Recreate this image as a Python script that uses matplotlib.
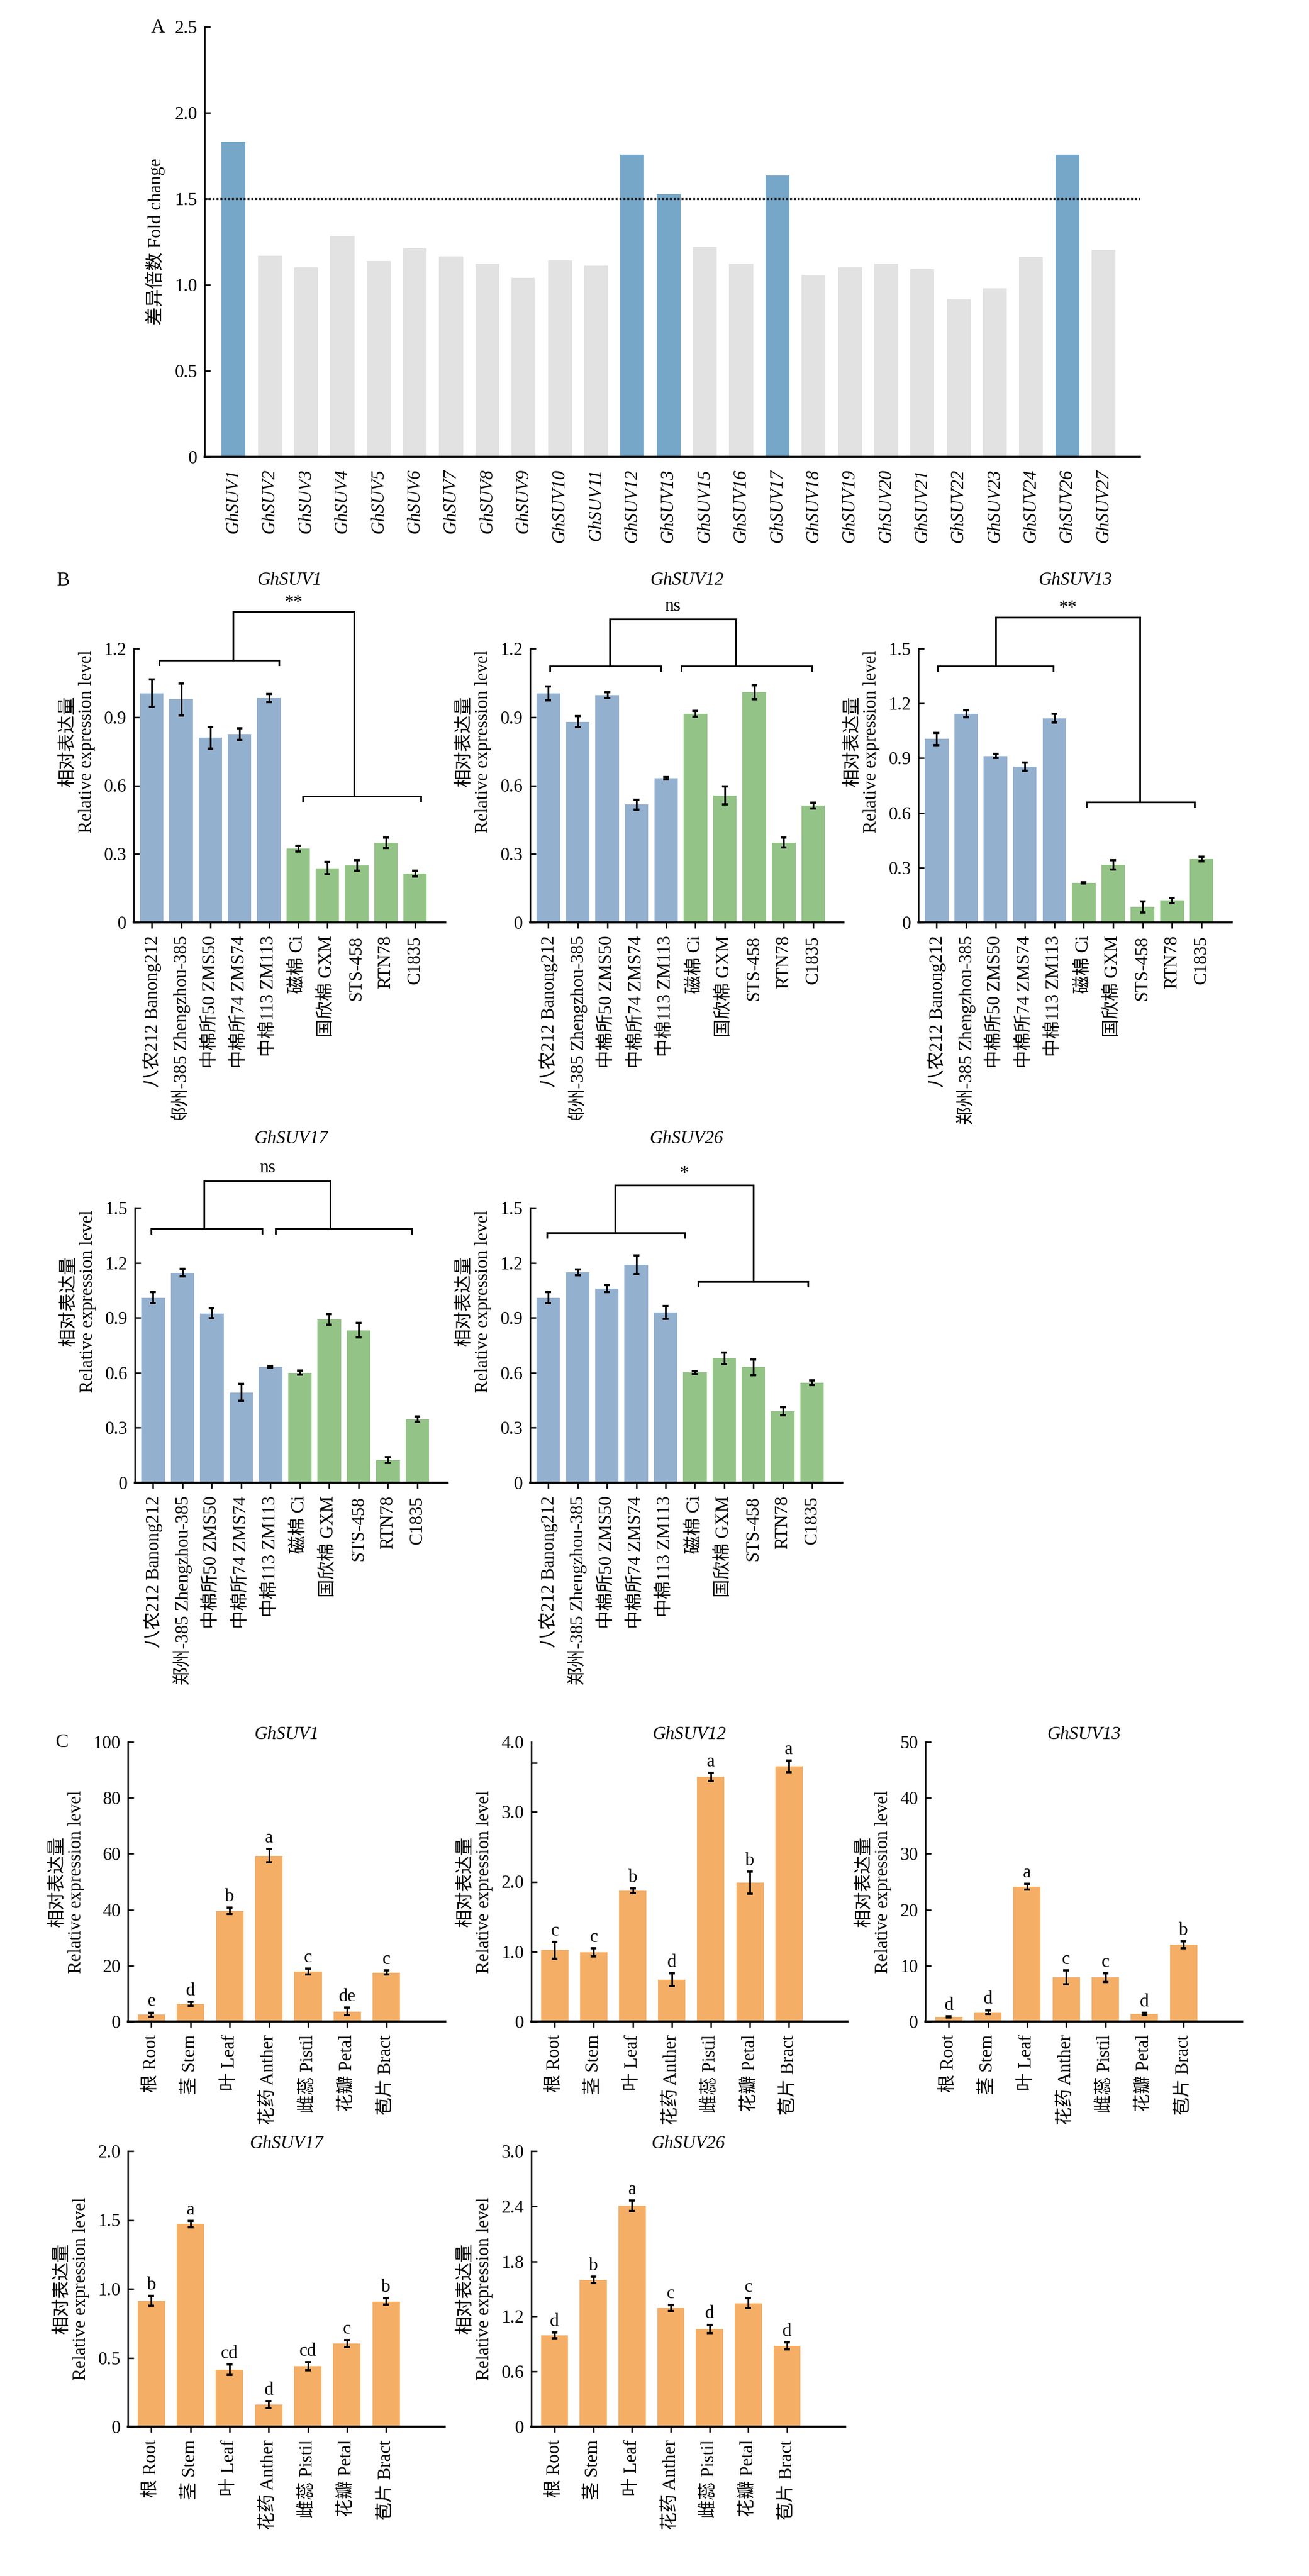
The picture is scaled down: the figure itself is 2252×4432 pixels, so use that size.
import numpy as np
import matplotlib
matplotlib.use('Agg')
import matplotlib.pyplot as plt
from matplotlib.ticker import FuncFormatter

plt.rcParams['font.family'] = ['Liberation Serif', 'Noto Sans CJK SC']
plt.rcParams['font.size'] = 7.5

# ---------------- data ----------------
# A: fold change of all GhSUV genes
genes_a = ['GhSUV1', 'GhSUV2', 'GhSUV3', 'GhSUV4', 'GhSUV5', 'GhSUV6', 'GhSUV7',
           'GhSUV8', 'GhSUV9', 'GhSUV10', 'GhSUV11', 'GhSUV12', 'GhSUV13', 'GhSUV15',
           'GhSUV16', 'GhSUV17', 'GhSUV18', 'GhSUV19', 'GhSUV20', 'GhSUV21', 'GhSUV22',
           'GhSUV23', 'GhSUV24', 'GhSUV26', 'GhSUV27']
fold_a = [1.83, 1.17, 1.10, 1.285, 1.14, 1.213, 1.167, 1.12, 1.04, 1.143, 1.112,
          1.758, 1.527, 1.221, 1.12, 1.634, 1.056, 1.103, 1.12, 1.091, 0.919,
          0.981, 1.161, 1.758, 1.203]
threshold_a = 1.5

# B: expression in cultivars
cultivars = ['八农212 Banong212', '郑州-385 Zhengzhou-385', '中棉所50 ZMS50',
             '中棉所74 ZMS74', '中棉113 ZM113', '磁棉 Ci', '国欣棉 GXM',
             'STS-458', 'RTN78', 'C1835']
genes_b = ['GhSUV1', 'GhSUV12', 'GhSUV13', 'GhSUV17', 'GhSUV26']
mean_b1 = [1.005, 0.978, 0.809, 0.825, 0.983, 0.324, 0.238, 0.250, 0.350, 0.214]
err_b1 = [0.060, 0.070, 0.046, 0.026, 0.018, 0.013, 0.026, 0.022, 0.023, 0.013]
mean_b12 = [1.004, 0.880, 0.997, 0.516, 0.632, 0.915, 0.556, 1.009, 0.350, 0.512]
err_b12 = [0.030, 0.025, 0.013, 0.022, 0.004, 0.013, 0.040, 0.030, 0.022, 0.013]
mean_b13 = [1.005, 1.143, 0.912, 0.853, 1.119, 0.217, 0.316, 0.085, 0.120, 0.347]
err_b13 = [0.033, 0.020, 0.012, 0.022, 0.024, 0.004, 0.026, 0.030, 0.014, 0.012]
mean_b17 = [1.009, 1.146, 0.923, 0.493, 0.632, 0.600, 0.891, 0.832, 0.123, 0.346]
err_b17 = [0.030, 0.021, 0.027, 0.045, 0.005, 0.011, 0.029, 0.039, 0.016, 0.014]
mean_b26 = [1.009, 1.149, 1.059, 1.190, 0.929, 0.601, 0.679, 0.630, 0.390, 0.546]
err_b26 = [0.030, 0.016, 0.019, 0.050, 0.036, 0.008, 0.031, 0.042, 0.021, 0.012]
sig_b = ['**', 'ns', '**', 'ns', '*']

# C: expression in tissues
tissues = ['根 Root', '茎 Stem', '叶 Leaf', '花药 Anther', '雌蕊 Pistil', '花瓣 Petal', '苞片 Bract']
mean_c1 = [2.4, 6.3, 39.6, 59.3, 17.9, 3.6, 17.5]
err_c1 = [0.8, 0.7, 1.1, 2.4, 1.0, 1.4, 0.7]
let_c1 = ['e', 'd', 'b', 'a', 'c', 'de', 'c']
mean_c12 = [1.02, 0.99, 1.87, 0.60, 3.50, 1.99, 3.65]
err_c12 = [0.12, 0.057, 0.033, 0.09, 0.06, 0.157, 0.08]
let_c12 = ['c', 'c', 'b', 'd', 'a', 'b', 'a']
mean_c13 = [0.83, 1.67, 24.1, 7.86, 7.86, 1.37, 13.7]
err_c13 = [0.12, 0.35, 0.55, 1.25, 0.75, 0.18, 0.65]
let_c13 = ['d', 'd', 'a', 'c', 'c', 'd', 'b']
mean_c17 = [0.913, 1.471, 0.414, 0.161, 0.439, 0.605, 0.908]
err_c17 = [0.035, 0.022, 0.038, 0.025, 0.030, 0.025, 0.023]
let_c17 = ['b', 'a', 'cd', 'd', 'cd', 'c', 'b']
mean_c26 = [0.994, 1.596, 2.405, 1.291, 1.065, 1.344, 0.881]
err_c26 = [0.033, 0.034, 0.056, 0.034, 0.045, 0.052, 0.037]
let_c26 = ['d', 'b', 'a', 'c', 'd', 'c', 'd']

# ---------------- layout ----------------
W, H = 2252, 4432
fig = plt.figure(figsize=(W / 300, H / 300), dpi=300)

BLUE_A = '#76a7c8'
GREY_A = '#e2e2e2'
BLUE_B = '#94b0cf'
GREEN_B = '#93c386'
ORANGE_C = '#f5ae66'


def px_axes(x0, x1, ybot, ytop, extra=1.0):
    h = (ybot - ytop) * extra
    return fig.add_axes([x0 / W, 1 - ybot / H, (x1 - x0) / W, h / H])


def fmt_tick(v, pos):
    if abs(v) < 1e-9:
        return '0'
    if abs(v - round(v)) < 1e-9 and v >= 10:
        return '%d' % round(v)
    return '%.1f' % v


def style_axes(ax, ytop, xticks=True):
    ax.spines['top'].set_visible(False)
    ax.spines['right'].set_visible(False)
    ax.spines['left'].set_linewidth(0.6)
    ax.spines['bottom'].set_linewidth(0.85)
    ax.spines['left'].set_bounds(0, ytop)
    ax.tick_params(axis='y', direction='in', length=2.4, width=0.6, pad=3, labelsize=7.5)
    if xticks:
        ax.tick_params(axis='x', direction='out', length=2.4, width=0.6, pad=3, labelsize=7.5)
    else:
        ax.tick_params(axis='x', length=0, pad=5, labelsize=7.5)
    ax.yaxis.set_major_formatter(FuncFormatter(fmt_tick))


# ---------------- A ----------------
ax = px_axes(352, 1961, 786, 46)
xa = np.arange(len(genes_a))
cols_a = [BLUE_A if v > threshold_a else GREY_A for v in fold_a]
ax.bar(xa, fold_a, width=0.66, color=cols_a)
ax.axhline(threshold_a, color='black', lw=0.8, ls=(0, (1, 1)))
ax.set_xlim(-0.8, len(genes_a))
ax.set_ylim(0, 2.5)
ax.set_yticks([0, 0.5, 1.0, 1.5, 2.0, 2.5])
ax.set_xticks(xa)
ax.set_xticklabels(genes_a, rotation=90, style='italic')
style_axes(ax, 2.5, xticks=False)
ax.set_ylabel('差异倍数 Fold change', fontsize=7.5, labelpad=4)
fig.text(272 / W, 1 - 48 / H, 'A', ha='center', va='center', fontsize=8)

# ---------------- B ----------------
b_means = [mean_b1, mean_b12, mean_b13, mean_b17, mean_b26]
b_errs = [err_b1, err_b12, err_b13, err_b17, err_b26]
b_top = [1.2, 1.2, 1.5, 1.5, 1.5]
b_boxes = [(230, 766, 1587, 1116), (912, 1451, 1587, 1116), (1580, 2119, 1587, 1116),
           (232, 770, 2551, 2078), (912, 1449, 2551, 2078)]
# bracket geometry: left group (x0, x1, y, connector), right group, top y, text y
b_brackets = [
    ((0.26, 4.34, 1.149, 2.77), (5.17, 9.20, 0.553, 6.91), 1.363, 1.401),
    ((0.06, 3.83, 1.124, 2.09), (4.51, 8.97, 1.124, 6.37), 1.331, 1.385),
    ((0.03, 3.97, 1.406, 2.00), (5.10, 8.76, 0.660, 6.90), 1.672, 1.720),
    ((-0.06, 3.71, 1.387, 1.74), (4.17, 8.81, 1.387, 6.04), 1.645, 1.718),
    ((-0.04, 4.66, 1.363, 2.28), (5.11, 8.86, 1.096, 7.00), 1.624, 1.687),
]
EXTRA_B = 1.32
xb = np.arange(len(cultivars))
cols_b = [BLUE_B] * 5 + [GREEN_B] * 5
for i, gene in enumerate(genes_b):
    x0, x1, yb, yt = b_boxes[i]
    top = b_top[i]
    ax = px_axes(x0, x1, yb, yt, EXTRA_B)
    ax.bar(xb, b_means[i], width=0.8, color=cols_b)
    ax.errorbar(xb, b_means[i], yerr=b_errs[i], fmt='none', ecolor='black',
                elinewidth=0.7, capsize=1.3, capthick=0.9)
    ax.set_xlim(-0.62, 10.03)
    ax.set_ylim(0, top * EXTRA_B)
    ax.set_yticks(np.round(np.arange(0, top + 0.01, 0.3), 1))
    ax.set_xticks(xb)
    ax.set_xticklabels(cultivars, rotation=90)
    style_axes(ax, top)
    ax.set_ylabel('相对表达量\nRelative expression level', fontsize=7.5, labelpad=3.5,
                  multialignment='center', linespacing=1.1)
    ax.text(np.mean(ax.get_xlim()), top * 1.25, gene, style='italic',
            ha='center', va='center', fontsize=7.5)
    (l0, l1, ly, lc), (r0, r1, ry, rc), ty, sy = b_brackets[i]
    tick = 8 / (yb - yt) * top
    lw = 0.7
    for g0, g1, gy in ((l0, l1, ly), (r0, r1, ry)):
        ax.plot([g0, g0, g1, g1], [gy - tick, gy, gy, gy - tick], color='black', lw=lw,
                solid_joinstyle='miter', clip_on=False)
    ax.plot([lc, lc, rc, rc], [ly, ty, ty, ry], color='black', lw=lw,
            solid_joinstyle='miter', clip_on=False)
    ax.text((lc + rc) / 2, sy, sig_b[i], ha='center', va='center', fontsize=7.5)
fig.text(108 / W, 1 - 999 / H, 'B', ha='center', va='center', fontsize=8)

# ---------------- C ----------------
c_genes = ['GhSUV1', 'GhSUV12', 'GhSUV13', 'GhSUV17', 'GhSUV26']
c_means = [mean_c1, mean_c12, mean_c13, mean_c17, mean_c26]
c_errs = [err_c1, err_c12, err_c13, err_c17, err_c26]
c_lets = [let_c1, let_c12, let_c13, let_c17, let_c26]
c_ticks = [[0, 20, 40, 60, 80, 100], [0, 1.0, 2.0, 3.0, 4.0], [0, 10, 20, 30, 40, 50],
           [0, 0.5, 1.0, 1.5, 2.0], [0, 0.6, 1.2, 1.8, 2.4, 3.0]]
c_boxes = [(220, 766, 3478, 2997), (914, 1458, 3478, 2997), (1592, 2137, 3478, 2997),
           (220, 765, 4175, 3701), (914, 1454, 4175, 3701)]
xc = np.arange(len(tissues))
for i, gene in enumerate(c_genes):
    x0, x1, yb, yt = c_boxes[i]
    ax = px_axes(x0, x1, yb, yt)
    ax.bar(xc, c_means[i], width=0.7, color=ORANGE_C)
    ax.errorbar(xc, c_means[i], yerr=c_errs[i], fmt='none', ecolor='black',
                elinewidth=0.7, capsize=1.3, capthick=0.9)
    for xx, m, e, lab in zip(xc, c_means[i], c_errs[i], c_lets[i]):
        ax.annotate(lab, xy=(xx, m + e), xytext=(0, 1), textcoords='offset points',
                    ha='center', va='bottom', fontsize=7.5)
    ax.set_xlim(-0.6, 7.5)
    ax.set_ylim(0, c_ticks[i][-1])
    ax.set_yticks(c_ticks[i])
    ax.set_xticks(xc)
    ax.set_xticklabels(tissues, rotation=90)
    style_axes(ax, c_ticks[i][-1])
    if gene == 'GhSUV12':
        # in the source the top tick mark sits at ~3.7 while the "4.0" label has none
        ax.set_yticks(c_ticks[i][:-1] + [3.7])
        ax.set_yticklabels(['0', '1.0', '2.0', '3.0', ''])
        ax.set_yticks([4.0], minor=True)
        ax.set_yticklabels(['4.0'], minor=True)
        ax.tick_params(axis='y', which='minor', length=0, pad=3, labelsize=7.5)
    ax.set_ylabel('相对表达量\nRelative expression level', fontsize=7.5, labelpad=3.5,
                  multialignment='center', linespacing=1.1)
    ax.annotate(gene, xy=(0.5, 1.0), xycoords='axes fraction', xytext=(0, 3),
                textcoords='offset points', ha='center', va='center',
                style='italic', fontsize=7.5)
fig.text(107 / W, 1 - 2998 / H, 'C', ha='center', va='center', fontsize=8)

fig.savefig('out.png', dpi=300)
